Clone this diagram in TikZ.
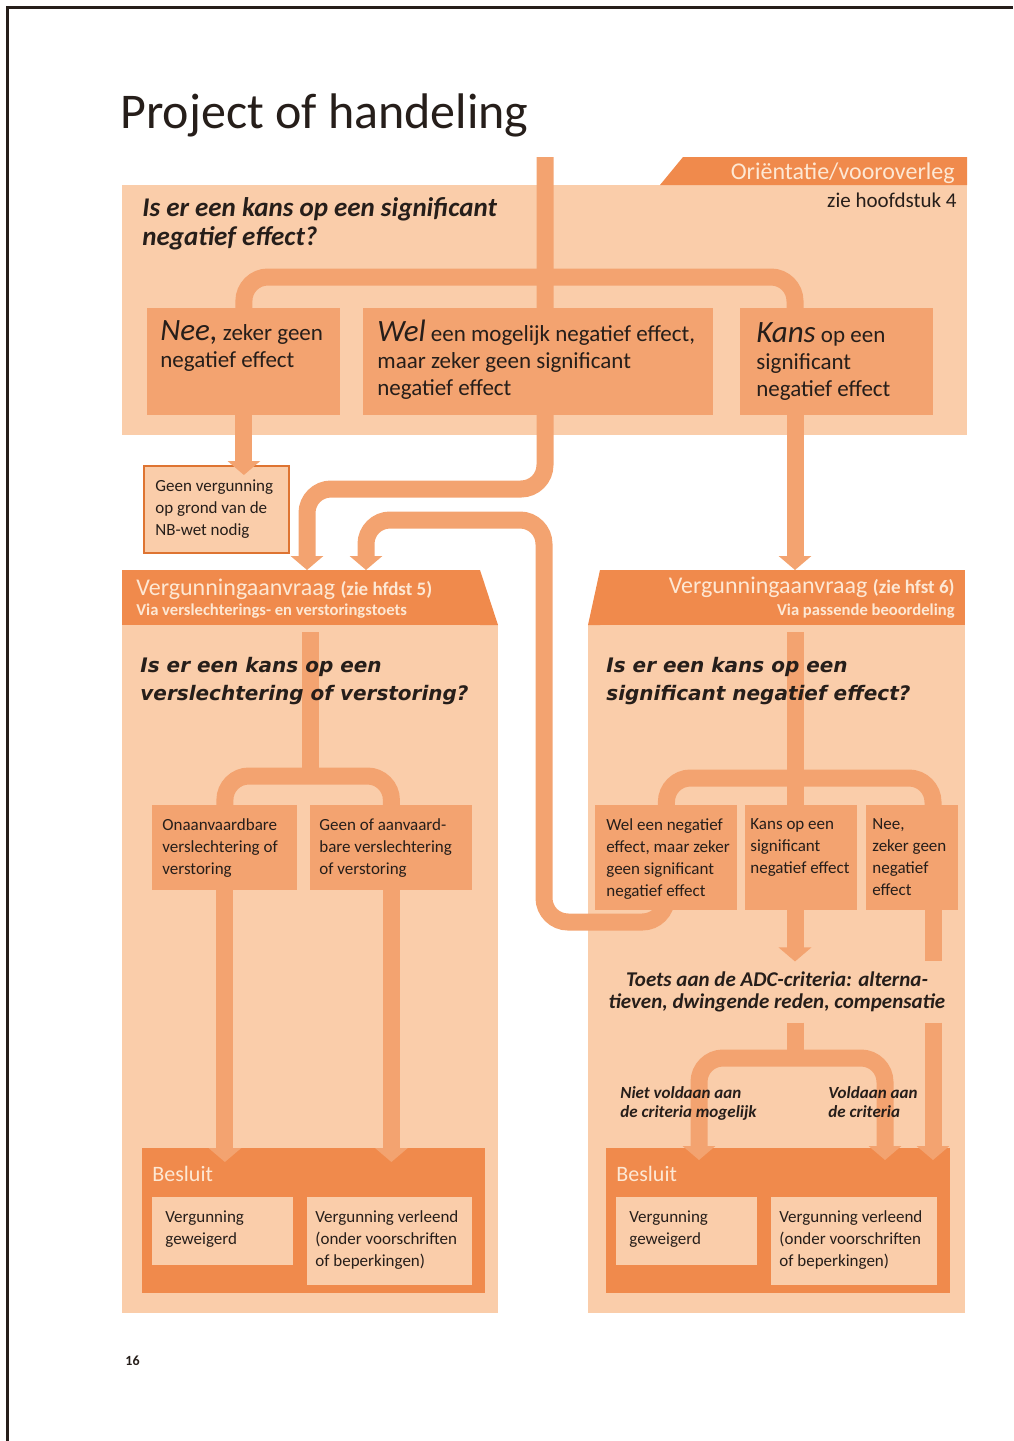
\documentclass[tikz,border=0pt]{standalone}
\usepackage{fontspec}
\setmainfont{Carlito}
\newfontfamily\vsans{DejaVu Sans}
\usetikzlibrary{arrows.meta,calc,positioning}
\definecolor{pale}{RGB}{250,205,170}
\definecolor{mid}{RGB}{243,163,112}
\definecolor{deep}{RGB}{240,138,76}
\definecolor{rim}{RGB}{222,116,50}
\definecolor{cream}{RGB}{253,232,212}
\definecolor{ink}{RGB}{38,30,26}
\pgfdeclarelayer{back}
\pgfdeclarelayer{flow}
\pgfsetlayers{back,flow,main}

\begin{document}
\begin{tikzpicture}[
    x=0.5pt, y=-0.5pt,
    every node/.style={inner sep=0pt,text=ink,align=left},
    box/.style={fill=mid,anchor=north west},
    band/.style={fill=deep,anchor=north west},
    sheet/.style={fill=pale,anchor=north west},
    txt/.style={anchor=north west,font=\fontsize{8.5}{11}\selectfont},
    bigtxt/.style={anchor=north west,font=\fontsize{11.5}{13.5}\selectfont},
    ask/.style={anchor=north west,font=\vsans\bfseries\itshape\fontsize{10}{14}\selectfont},
    head/.style={text=cream,font=\fontsize{12}{12}\selectfont},
    flow/.style={draw=mid,line width=8.5pt,rounded corners=12pt},
    arrow/.style={flow,-{Triangle[length=7pt,width=16pt]}},
    fork/.style={flow,{Triangle[length=7pt,width=16pt]}-{Triangle[length=7pt,width=16pt]}}
]
\useasboundingbox (0,0) rectangle (1013,1441);

% page frame and title
\draw[ink,line width=1.5pt] (7,1441) -- (7,7) -- (1013,7);
\node[anchor=base west,font=\fontsize{25}{28}\selectfont] (title) at (120,128) {Project of handeling};
\node[anchor=base west,font=\bfseries\fontsize{7}{8}\selectfont] (page) at (125,1365) {16};

\begin{pgfonlayer}{back}
% orientation panel
\fill[pale] (122,185) rectangle (967,435);
\fill[deep] (660,185) -- (683,157) -- (967,157) -- (967,185) -- cycle;
% permit panels
\fill[pale] (122,625) rectangle (498,1313);
\fill[pale] (588,625) rectangle (965,1313);
\node[band,minimum width=179pt,minimum height=27.5pt] (hdrL) at (122,570) {};
\fill[deep] (480,570) -- (498,625) -- (480,625) -- cycle;
\node[band,minimum width=182.5pt,minimum height=27.5pt] (hdrR) at (600,570) {};
\fill[deep] (600,570) -- (588,625) -- (600,625) -- cycle;
\node[band,minimum width=171.5pt,minimum height=72.5pt] (besL) at (142,1148) {};
\node[band,minimum width=172pt,minimum height=72.5pt] (besR) at (606,1148) {};
\node[sheet,draw=rim,line width=1pt,minimum width=72.5pt,minimum height=43.5pt] (geen) at (143,465) {};
\end{pgfonlayer}

% orientation
\node[anchor=base east,text=cream,font=\fontsize{12}{12}\selectfont] (tabT) at (955,179) {Oriëntatie/vooroverleg};
\node[anchor=base east,font=\fontsize{10.5}{11}\selectfont] (tabS) at (957,207) {zie hoofdstuk 4};
\node[anchor=north west,font=\bfseries\itshape\fontsize{13.5}{14.5}\selectfont] (q1) at (142,197) {Is er een kans op een significant\\negatief effect?};

\node[box,minimum width=96.5pt,minimum height=53.5pt] (nee) at (147,308) {};
\node[box,minimum width=175pt,minimum height=53.5pt] (wel) at (363,308) {};
\node[box,minimum width=96.5pt,minimum height=53.5pt] (kans) at (740,308) {};
\node[bigtxt] (neeT) at (160,320) {{\itshape\fontsize{15.5}{15}\selectfont Nee,} zeker geen\\negatief effect};
\node[bigtxt] (welT) at (377,320) {{\itshape\fontsize{15.5}{15}\selectfont Wel} een mogelijk negatief effect,\\maar zeker geen significant\\negatief effect};
\node[bigtxt] (kansT) at (756,322) {{\itshape\fontsize{15.5}{15}\selectfont Kans} op een\\significant\\negatief effect};
\node[txt] (geenT) at (155,479) {Geen vergunning\\op grond van de\\NB-wet nodig};

% permit headers
\node[anchor=base west,head] (hdrLT) at (136,595) {Vergunningaanvraag {\bfseries\fontsize{9.5}{9}\selectfont(zie hfdst 5)}};
\node[anchor=base west,text=cream,font=\bfseries\fontsize{8.3}{8}\selectfont] (hdrLS) at (136,615) {Via verslechterings- en verstoringstoets};
\node[anchor=base east,head] (hdrRT) at (955,593) {Vergunningaanvraag {\bfseries\fontsize{9.5}{9}\selectfont(zie hfst 6)}};
\node[anchor=base east,text=cream,font=\bfseries\fontsize{8.3}{8}\selectfont] (hdrRS) at (955,615) {Via passende beoordeling};

\node[ask] (q2) at (140,657) {Is er een kans op een\\verslechtering of verstoring?};
\node[ask] (q3) at (606,657) {Is er een kans op een\\significant negatief effect?};

% left permit
\node[box,minimum width=72.5pt,minimum height=42.5pt] (onaan) at (152,805) {};
\node[box,minimum width=81pt,minimum height=42.5pt] (geenof) at (310,805) {};
\node[txt] (onaanT) at (162,818) {Onaanvaardbare\\verslechtering of\\verstoring};
\node[txt] (geenofT) at (319,818) {Geen of aanvaard-\\bare verslechtering\\of verstoring};

% right permit
\node[box,minimum width=71pt,minimum height=52.5pt] (welR) at (595,805) {};
\node[box,minimum width=56pt,minimum height=52.5pt] (kansR) at (745,805) {};
\node[box,minimum width=46pt,minimum height=52.5pt] (neeR) at (866,805) {};
\node[txt] (welRT) at (606,818) {Wel een negatief\\effect, maar zeker\\geen significant\\negatief effect};
\node[txt] (kansRT) at (750,818) {Kans op een\\significant\\negatief effect};
\node[txt] (neeRT) at (872,818) {Nee,\\zeker geen\\negatief\\effect};

\node[font=\bfseries\itshape\fontsize{10.5}{11}\selectfont,align=center,inner ysep=5pt] (toets) at (777,992) {Toets aan de ADC-criteria: alterna-\\tieven, dwingende reden, compensatie};
\node[anchor=north west,font=\bfseries\itshape\fontsize{8.5}{9.5}\selectfont] (niet) at (620,1086) {Niet voldaan aan\\de criteria mogelijk};
\node[anchor=north west,font=\bfseries\itshape\fontsize{8.5}{9.5}\selectfont] (voldaan) at (828,1086) {Voldaan aan\\de criteria};

% decisions
\node[anchor=base west,head,font=\fontsize{11}{12}\selectfont] (besLT) at (152,1181) {Besluit};
\node[anchor=base west,head,font=\fontsize{11}{12}\selectfont] (besRT) at (616,1181) {Besluit};
\node[sheet,minimum width=70.5pt,minimum height=34pt] (gewL) at (152,1197) {};
\node[sheet,minimum width=82.5pt,minimum height=44pt] (verL) at (307,1197) {};
\node[sheet,minimum width=70.5pt,minimum height=34pt] (gewR) at (616,1197) {};
\node[sheet,minimum width=83pt,minimum height=44pt] (verR) at (771,1197) {};
\node[txt] (gewLT) at (165,1210) {Vergunning\\geweigerd};
\node[txt] (verLT) at (315,1210) {Vergunning verleend\\(onder voorschriften\\of beperkingen)};
\node[txt] (gewRT) at (629,1210) {Vergunning\\geweigerd};
\node[txt] (verRT) at (779,1210) {Vergunning verleend\\(onder voorschriften\\of beperkingen)};

% turning points of the flows
\coordinate (topin) at (545,157);
\coordinate (turnA) at (545,489);
\coordinate (split1) at (545,277);
\coordinate (cA) at (307,0);
\coordinate (cB) at (366,0);
\coordinate (cK) at (795,0);
\coordinate (cNR) at (933,0);
\coordinate (cL) at (699,0);
\coordinate (cR) at (885,0);
\coordinate (loopB) at (544,922);
\coordinate (loopT) at (544,520);
\coordinate (lq) at (310,632);
\coordinate (lbar) at (310,776);
\coordinate (rq) at (795,632);
\coordinate (rbar) at (795,778);
\coordinate (rbar2) at (795,1058);

\begin{pgfonlayer}{flow}
\draw[arrow] (topin) -- (turnA) -| (hdrL.north -| cA);
\draw[flow] (nee.center) |- (split1) -| (kans.center -| cK);
\draw[arrow] (nee.center) -- ($(geen.north -| nee.center)+(0,10)$);
\draw[arrow] (kans.center -| cK) -- (hdrR.north -| cK);
\draw[arrow] (welR.center) |- (loopB) -- (loopT) -| (hdrL.north -| cB);
% left permit
\draw[flow] (lq) -- (lbar);
\draw[flow] (onaan.center) |- (lbar) -| (geenof.center);
\draw[arrow] (onaan.center) -- ($(besL.north -| onaan.center)+(0,14)$);
\draw[arrow] (geenof.center) -- ($(besL.north -| geenof.center)+(0,14)$);
% right permit
\draw[flow] (rq) -- (kansR.center -| cK);
\draw[flow] (welR.center) |- (rbar) -| (neeR.center -| cNR);
\draw[arrow] (kansR.center -| cK) -- (toets.north -| cK);
\draw[flow] (neeR.center -| cNR) -- (toets.north -| cNR);
\draw[arrow] (toets.south -| cNR) -- ($(besR.north -| cNR)+(0,12)$);
\draw[flow] (toets.south -| cK) -- (rbar2);
\draw[fork] ($(besR.north -| cL)+(0,12)$) |- (rbar2) -| ($(besR.north -| cR)+(0,12)$);
\end{pgfonlayer}
\end{tikzpicture}
\end{document}
